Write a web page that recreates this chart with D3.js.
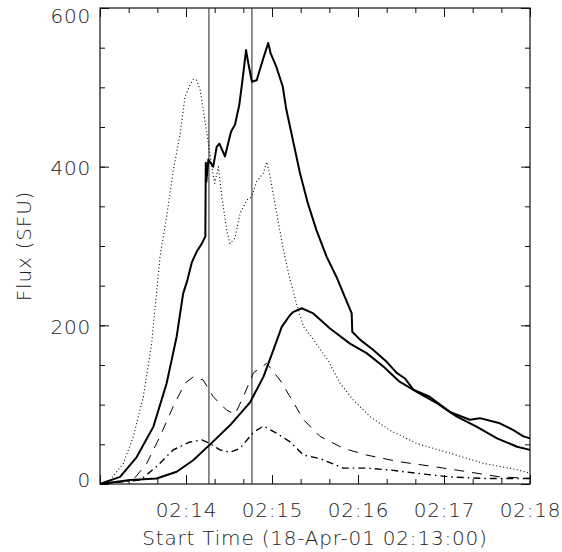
<html>
<head>
    <title>Flux curves 18-Apr-01</title>
    <script type="text/javascript" src="https://d3js.org/d3.v7.min.js"></script>
    <style>
        body {
            margin: 0;
            background: white;
        }

        text {
            font-family: "DejaVu Sans", sans-serif;
            font-size: 20px;
            fill: #222;
            font-weight: 200;
        }

        .curve {
            fill: none;
            stroke: black;
        }
    </style>
</head>
<body>
<div id="chart"></div>

<script>
    // seconds after 02:13:00, flux in SFU
    var dottedT = [0, 7, 16.3, 23.3, 30.2, 36, 41.9, 46.5, 51, 55.8, 59.3, 62.8, 65, 67.5, 69.8, 72, 75.6, 78, 80, 82.6, 85, 88.4, 90.7, 94.2, 97.7, 102.4, 105.8, 109.3, 114, 116.3, 118.6, 123.3, 128, 132, 137, 142, 149, 159, 167.5, 176.7, 188.4, 202, 221, 244, 267.5, 291, 300];
    var dottedV = [0, 5, 26, 60, 110, 177, 287, 337, 394, 440, 488, 503, 510, 509, 497, 472, 430, 400, 379, 400, 362, 320, 303, 310, 341, 358, 362, 381, 392, 406, 388, 341, 295, 262, 228, 198, 182, 156, 127, 106, 85, 68, 51, 39, 26, 18, 13.5];

    var mainT = [0, 14, 25.6, 37.2, 46.5, 53.5, 58, 61, 64, 67.5, 71, 73.5, 73.8, 74.2, 75.6, 79, 81.4, 83.3, 87.2, 91.4, 94.2, 97.2, 99.6, 101.9, 103.5, 106, 109.3, 114, 117.4, 119, 123, 127.5, 130, 135, 139.5, 145, 151, 158, 165, 171, 175.6, 176, 181.4, 190.7, 200, 207, 212.8, 218.6, 230, 244, 258, 265, 279, 288.4, 295.4, 300];
    var mainV = [0, 9, 34, 72, 127, 186, 240, 257, 279, 293, 303, 312, 405, 381, 409, 400, 425, 429, 413, 444, 453, 478, 512, 547, 530, 507, 509, 537, 556, 543, 526, 501, 472, 430, 392, 354, 320, 287, 261, 235, 215, 192, 182, 169, 154, 140, 133, 119, 110, 91, 81, 83, 76.5, 68, 60, 57.5];

    var slowT = [0, 21, 39.5, 53.5, 65, 76.3, 90.7, 104.7, 114, 121, 126.8, 132.6, 135, 140.7, 148.8, 160.5, 174.4, 186, 197.7, 209, 221, 235, 249, 263, 277, 291, 300];
    var slowV = [0, 5, 7, 15.5, 30, 49, 74, 103, 135, 169, 198, 213, 217, 221.5, 215, 196, 177, 165, 148, 129, 116, 102, 85, 72, 57.5, 47, 43];

    var dashT = [0, 23, 32.6, 41.9, 51, 59.3, 65, 72, 79, 88.4, 94.2, 100, 107, 116.3, 125.6, 132.6, 142, 153.5, 169.8, 186, 209, 232.6, 256, 279, 300];
    var dashV = [0, 5, 26, 60, 97.5, 127, 135, 131, 110, 93, 88, 110, 140, 152, 131, 110, 81, 60, 45, 36.5, 28, 22, 15.5, 9, 7];

    var dashDotT = [0, 28, 39.5, 51, 62.8, 71, 76.7, 83.7, 90.7, 97.7, 107, 114, 123.3, 132.6, 142, 153.5, 169.8, 186, 202, 221, 244, 267.5, 300];
    var dashDotV = [0, 5, 22, 43, 53, 55.5, 51, 43, 40, 45, 65, 73, 64, 53, 36.5, 32, 20, 20, 17.7, 13.5, 9, 7, 7];

    var markerTimes = [76, 106];
    var xMajor = [0, 60, 120, 180, 240, 300];
    var yMajor = [0, 200, 400, 600];

    var width = 562, height = 552;

    var x = d3.scaleLinear().domain([0, 300]).range([100, 530]);
    var y = d3.scaleLinear().domain([0, 600]).range([484, 8]);

    var svg = d3.select("#chart").append("svg")
        .attr("width", width)
        .attr("height", height);

    var xMinor = d3.range(0, 301, 20);
    var yMinor = d3.range(0, 601, 50);

    function fmtTime(d) {
        var m = 13 + d / 60;
        return d == 0 ? "" : "02:" + (m < 10 ? "0" + m : m);
    }

    // minor ticks, all four sides
    svg.append("g").attr("transform", "translate(0," + y(0) + ")")
        .call(d3.axisBottom(x).tickValues(xMinor).tickSize(-5).tickFormat(""));
    svg.append("g").attr("transform", "translate(0," + y(600) + ")")
        .call(d3.axisTop(x).tickValues(xMinor).tickSize(-5).tickFormat(""));
    svg.append("g").attr("transform", "translate(" + x(0) + ",0)")
        .call(d3.axisLeft(y).tickValues(yMinor).tickSize(-5).tickFormat(""));
    svg.append("g").attr("transform", "translate(" + x(300) + ",0)")
        .call(d3.axisRight(y).tickValues(yMinor).tickSize(-5).tickFormat(""));

    // major ticks + labels
    var xAxis = svg.append("g").attr("transform", "translate(0," + y(0) + ")")
        .call(d3.axisBottom(x).tickValues(xMajor).tickSize(-9).tickPadding(19).tickFormat(fmtTime));
    svg.append("g").attr("transform", "translate(0," + y(600) + ")")
        .call(d3.axisTop(x).tickValues(xMajor).tickSize(-9).tickFormat(""));
    var yAxis = svg.append("g").attr("transform", "translate(" + x(0) + ",0)")
        .call(d3.axisLeft(y).tickValues(yMajor).tickSize(-9).tickPadding(9).tickFormat(d3.format("d")));
    svg.append("g").attr("transform", "translate(" + x(300) + ",0)")
        .call(d3.axisRight(y).tickValues(yMajor).tickSize(-9).tickFormat(""));

    svg.selectAll(".domain").remove();
    svg.selectAll(".tick line").attr("stroke", "#111");
    svg.selectAll(".tick text")
        .attr("fill", "#222")
        .style("font-family", "'DejaVu Sans', sans-serif")
        .style("font-size", "20px")
        .style("letter-spacing", "0.8px");

    // IDL pushes the end labels inside the axis range
    yAxis.selectAll(".tick text").attr("dy", function (d) {
        if (d == 600) return "0.72em";
        if (d == 0) return "0.1em";
        return "0.4em";
    });

    // frame
    svg.append("rect")
        .attr("x", x(0)).attr("y", y(600))
        .attr("width", x(300) - x(0))
        .attr("height", y(0) - y(600))
        .attr("fill", "none")
        .attr("stroke", "#111")
        .attr("stroke-width", 1.2);

    // marker lines
    svg.selectAll("line.marker")
        .data(markerTimes)
        .join("line")
        .attr("class", "marker")
        .attr("x1", function (d) { return x(d); })
        .attr("x2", function (d) { return x(d); })
        .attr("y1", y(0))
        .attr("y2", y(600))
        .attr("stroke", "#333")
        .attr("stroke-width", 1.1);

    var line = d3.line()
        .x(function (d) { return x(d[0]); })
        .y(function (d) { return y(d[1]); });

    function pairs(t, v) {
        return t.map(function (d, i) { return [d, v[i]]; });
    }

    var series = [
        {data: pairs(dashDotT, dashDotV), w: 1.4, dash: "7,4,1.5,4"},
        {data: pairs(dashT, dashV), w: 1, dash: "10,8"},
        {data: pairs(dottedT, dottedV), w: 1.1, dash: "1,2.5"},
        {data: pairs(slowT, slowV), w: 2, dash: null},
        {data: pairs(mainT, mainV), w: 2, dash: null}
    ];

    svg.selectAll("path.curve")
        .data(series)
        .join("path")
        .attr("class", "curve")
        .attr("d", function (d) { return line(d.data); })
        .attr("stroke-width", function (d) { return d.w; })
        .attr("stroke-dasharray", function (d) { return d.dash; })
        .attr("stroke-linejoin", "round");

    // axis titles
    svg.append("text")
        .attr("x", (x(0) + x(300)) / 2)
        .attr("y", 545)
        .attr("text-anchor", "middle")
        .style("letter-spacing", "0.8px")
        .text("Start Time (18-Apr-01 02:13:00)");

    svg.append("text")
        .attr("transform", "translate(31," + (y(0) + y(600)) / 2 + ") rotate(-90)")
        .attr("text-anchor", "middle")
        .style("letter-spacing", "0.8px")
        .text("Flux (SFU)");
</script>
</body>
</html>
